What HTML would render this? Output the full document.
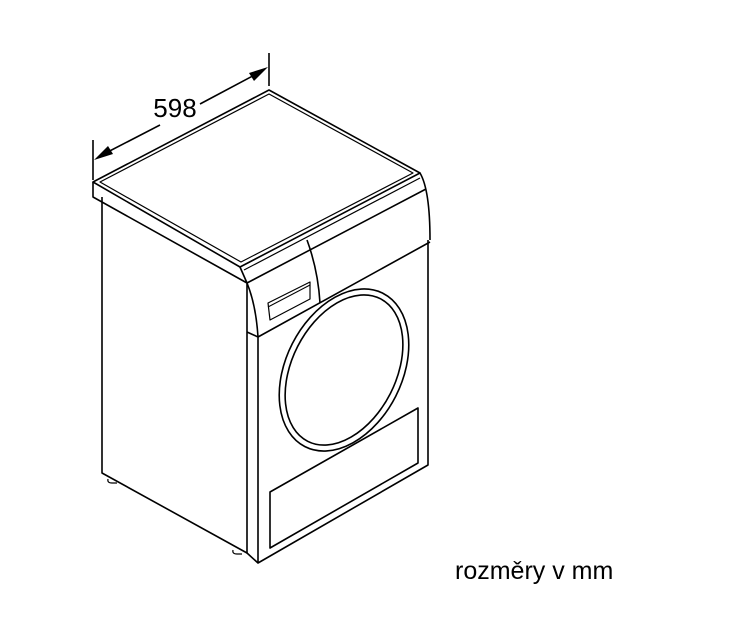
<!DOCTYPE html>
<html><head><style>body{margin:0;background:#fff}svg{display:block}</style></head><body>
<svg width="733" height="624" viewBox="0 0 733 624" xmlns="http://www.w3.org/2000/svg">
<g fill="none" stroke="#000" stroke-width="1.6" stroke-linejoin="round">
<!-- dimension -->
<line x1="93" y1="140" x2="93" y2="180"/>
<line x1="269" y1="53" x2="269" y2="86"/>
<line x1="100" y1="156" x2="160" y2="125"/>
<line x1="200" y1="104" x2="262" y2="71"/>
<!-- top slab -->
<path d="M93,182 L269,90 L420,173 L240,267 Z"/>
<path d="M100,182 L269,94 L413,173 L241,262 Z" stroke-width="1.2"/>
<path d="M93,182 L93,197 L247,283 L247,290"/>
<path d="M240,267 L247,283"/>
<path d="M244,270 L420,178" stroke-width="1.2"/>
<path d="M247,283 L426,189"/>
<path d="M420,173 Q430,190 430,240"/>
<!-- panel -->
<path d="M247,283 Q256,305 258,337 L430,242"/>
<path d="M307,240 Q318,270 320,303"/>
<path d="M268,303 L310,282 L310,299 L270,320 Z" stroke-width="1.2"/>
<line x1="268" y1="307" x2="310" y2="285" stroke-width="1"/>
<!-- body -->
<path d="M102,197 L102,473 L247,553 L247,290"/>
<path d="M247,332 L258,337 L258,563 L428,465 L428,240"/>
<path d="M247,553 L258,563"/>
<!-- feet -->
<path d="M108,479 Q107,483 112,483 L117,483" stroke-width="1.2"/>
<path d="M233,550 Q232,554 237,554 L242,554" stroke-width="1.2"/>
<!-- door -->
<ellipse cx="344" cy="370" rx="58" ry="86" transform="rotate(27 344 370)"/>
<ellipse cx="344" cy="370" rx="52" ry="80" transform="rotate(27 344 370)"/>
<!-- bottom panel -->
<path d="M270,492 L418,408 L418,463 L270,548 Z"/>
</g>
<polygon points="94,160 108,146 113,154" fill="#000"/>
<polygon points="268,67 254,81 249,73" fill="#000"/>
<text x="175" y="117" font-family="Liberation Sans, sans-serif" font-size="26" text-anchor="middle">598</text>
<text x="455" y="579" font-family="Liberation Sans, sans-serif" font-size="25">rozměry v mm</text>
</svg>
</body></html>
